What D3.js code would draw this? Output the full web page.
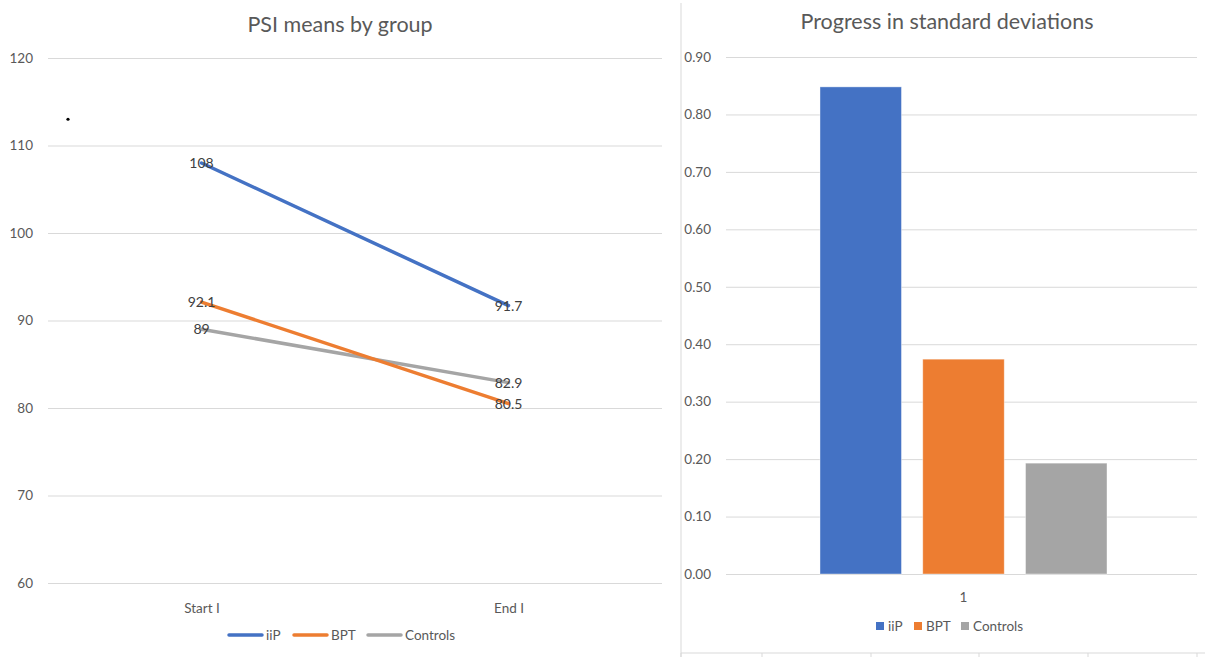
<!DOCTYPE html>
<html><head><meta charset="utf-8">
<script src="https://cdn.jsdelivr.net/npm/d3@7"></script>
<style>html,body{margin:0;padding:0;background:#fff;}svg{display:block;}</style>
</head><body>
<svg id="c" width="1205" height="657"></svg>
<script>
// ---- data ----
const lineCategories = ["Start I", "End I"];
const seriesNames = ["iiP", "BPT", "Controls"];
const seriesColors = ["#4472C4", "#ED7D31", "#A5A5A5"];
const iiPMeans = [108, 91.7];
const bptMeans = [92.1, 80.5];
const controlMeans = [89, 82.9];
const leftTicks = [60, 70, 80, 90, 100, 110, 120];
const barCategories = ["1"];
const progressSD = [0.848, 0.374, 0.193];
const rightTicks = [0, 0.1, 0.2, 0.3, 0.4, 0.5, 0.6, 0.7, 0.8, 0.9];

const FONT = "Lato, 'Open Sans', sans-serif";
const svg = d3.select("#c");
const grid = "#d9d9d9";

// ---------- Left chart ----------
const L = svg.append("g");
const xL = d3.scalePoint().domain(lineCategories).range([48, 662]).padding(0.5);
const yL = d3.scaleLinear().domain([60, 120]).range([583, 58]);

L.append("text").attr("x", 340).attr("y", 32).attr("text-anchor", "middle")
  .attr("font-family", FONT).attr("font-size", 21.5).attr("fill", "#595959").text("PSI means by group");

const yAxisL = d3.axisLeft(yL).tickValues(leftTicks).tickSize(-614).tickPadding(15).tickFormat(d3.format("d"));
const gL = L.append("g").attr("transform", "translate(48,0)").call(yAxisL);
gL.select(".domain").remove();
gL.selectAll(".tick line").attr("stroke", grid).attr("stroke-width", 1);
gL.selectAll(".tick text").attr("font-family", FONT).attr("font-size", 13.5).attr("fill", "#595959");

const xAxisL = d3.axisBottom(xL).tickSize(0).tickPadding(14);
const gxL = L.append("g").attr("transform", "translate(0,589)").call(xAxisL);
gxL.select(".domain").remove();
gxL.selectAll(".tick text").attr("font-family", FONT).attr("font-size", 13.5).attr("fill", "#595959");

// stray dot
L.append("circle").attr("cx", 68).attr("cy", yL(113)).attr("r", 1.6).attr("fill", "#000");

const lineSeries = [iiPMeans, bptMeans, controlMeans];
const line = d3.line().x((d, i) => xL(lineCategories[i])).y(d => yL(d));
const drawOrder = [2, 1, 0];
drawOrder.forEach(k => {
  L.append("path").datum(lineSeries[k]).attr("d", line).attr("fill", "none")
    .attr("stroke", seriesColors[k]).attr("stroke-width", 3.5).attr("stroke-linecap", "round");
});
lineSeries.forEach((s, k) => {
  s.forEach((v, i) => {
    L.append("text").attr("x", xL(lineCategories[i])).attr("y", yL(v)).attr("dy", "0.35em")
      .attr("text-anchor", "middle").attr("font-family", FONT).attr("font-size", 14)
      .attr("fill", "#404040").text(String(v));
  });
});

// legend left
const legL = [{x: 229, t: 266}, {x: 294, t: 331}, {x: 368, t: 405}];
seriesNames.forEach((n, k) => {
  L.append("line").attr("x1", legL[k].x).attr("x2", legL[k].x + 33).attr("y1", 635).attr("y2", 635)
    .attr("stroke", seriesColors[k]).attr("stroke-width", 3.5).attr("stroke-linecap", "round");
  L.append("text").attr("x", legL[k].t).attr("y", 635).attr("dy", "0.35em")
    .attr("font-family", FONT).attr("font-size", 13.5).attr("fill", "#595959").text(n);
});

// ---------- Right chart ----------
const R = svg.append("g");
// panel border fragments
R.append("line").attr("x1", 681).attr("x2", 681).attr("y1", 3).attr("y2", 657).attr("stroke", grid);
R.append("line").attr("x1", 681).attr("x2", 1205).attr("y1", 653).attr("y2", 653).attr("stroke", grid);
[681, 762, 871, 979, 1088, 1197].forEach(x => {
  R.append("line").attr("x1", x).attr("x2", x).attr("y1", 653).attr("y2", 657).attr("stroke", grid);
});

R.append("text").attr("x", 947).attr("y", 29).attr("text-anchor", "middle")
  .attr("font-family", FONT).attr("font-size", 21.5).attr("fill", "#595959").text("Progress in standard deviations");

const yR = d3.scaleLinear().domain([0, 0.9]).range([574, 57]);
const x0 = d3.scaleBand().domain(barCategories).range([726, 1201]).paddingInner(0).paddingOuter(0.3275);
const x1 = d3.scaleBand().domain(seriesNames).range([0, x0.bandwidth()]).paddingInner(0.207).paddingOuter(0);

const yAxisR = d3.axisLeft(yR).tickValues(rightTicks).tickSize(-471).tickPadding(15).tickFormat(d3.format(".2f"));
const gR = R.append("g").attr("transform", "translate(726,0)").call(yAxisR);
gR.select(".domain").remove();
gR.selectAll(".tick line").attr("stroke", grid).attr("stroke-width", 1);
gR.selectAll(".tick text").attr("font-family", FONT).attr("font-size", 13.5).attr("fill", "#595959");

R.selectAll("rect.bar").data(progressSD).join("rect").attr("class", "bar")
  .attr("x", (d, i) => x0("1") + x1(seriesNames[i]))
  .attr("y", d => yR(d)).attr("width", x1.bandwidth()).attr("height", d => yR(0) - yR(d))
  .attr("fill", (d, i) => seriesColors[i]).attr("stroke", "#fff").attr("stroke-opacity", 0.5).attr("stroke-width", 0.8);

const xAxisR = d3.axisBottom(x0).tickSize(0).tickPadding(12);
const gxR = R.append("g").attr("transform", "translate(0,580)").call(xAxisR);
gxR.select(".domain").remove();
gxR.selectAll(".tick text").attr("font-family", FONT).attr("font-size", 13.5).attr("fill", "#595959");

const legR = [{x: 876, t: 888}, {x: 914, t: 926}, {x: 961, t: 973}];
seriesNames.forEach((n, k) => {
  R.append("rect").attr("x", legR[k].x).attr("y", 622).attr("width", 8).attr("height", 8).attr("fill", seriesColors[k]);
  R.append("text").attr("x", legR[k].t).attr("y", 626).attr("dy", "0.35em")
    .attr("font-family", FONT).attr("font-size", 13.5).attr("fill", "#595959").text(n);
});
</script>
</body></html>
